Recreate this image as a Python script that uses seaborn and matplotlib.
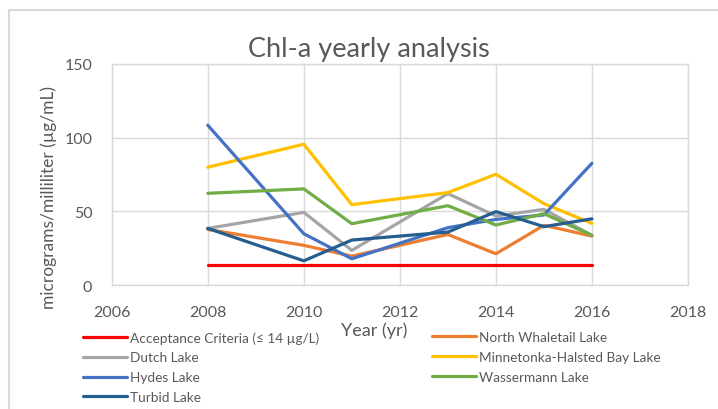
import matplotlib
matplotlib.use("Agg")
import matplotlib.pyplot as plt
from matplotlib.lines import Line2D
import pandas as pd
import seaborn as sns

# values
years = [2008, 2010, 2011, 2013, 2014, 2015, 2016]
acceptance = [14, 14, 14, 14, 14, 14, 14]
north_whaletail = [37.8, 27.0, 19.7, 34.4, 21.3, 40.6, 33.3]
dutch = [38.5, 49.4, 23.6, 62.1, 46.9, 51.4, 33.8]
minnetonka = [80.0, 95.6, 54.6, 62.8, 75.2, 55.3, 41.9]
hydes = [108.5, 34.9, 17.9, 39.0, 44.6, 47.6, 82.7]
wassermann = [62.3, 65.3, 41.7, 53.9, 40.8, 48.5, 33.8]
turbid = [38.5, 16.5, 30.6, 36.0, 49.9, 39.7, 45.0]

series = {
    "Acceptance Criteria (≤ 14 µg/L)": acceptance,
    "North Whaletail Lake": north_whaletail,
    "Dutch Lake": dutch,
    "Minnetonka-Halsted Bay Lake": minnetonka,
    "Hydes Lake": hydes,
    "Wassermann Lake": wassermann,
    "Turbid Lake": turbid,
}
colors = ["#FF0000", "#ED7D31", "#A5A5A5", "#FFC000", "#4472C4", "#70AD47", "#255E91"]

rows = []
for name, vals in series.items():
    for yr, v in zip(years, vals):
        rows.append({"Year": yr, "Value": v, "Series": name})
df = pd.DataFrame(rows)

sns.set_style("white")
plt.rcParams['font.family'] = ['Lato', 'DejaVu Sans']
txt = "#595959"

fig = plt.figure(figsize=(7.18, 4.10), dpi=100)
ax = fig.add_axes([0.1556, 0.302, 0.8026, 0.5395])

# chart area frame (left and top edges only visible)
fig.add_artist(Line2D([9 / 718, 9 / 718], [0, 1 - 11 / 410], color="#D9D9D9", linewidth=1.5))
fig.add_artist(Line2D([9 / 718, 1], [1 - 11 / 410, 1 - 11 / 410], color="#D9D9D9", linewidth=1.5))

palette = dict(zip(series.keys(), colors))
sns.lineplot(data=df, x="Year", y="Value", hue="Series", palette=palette,
             linewidth=2.3, ax=ax, legend=False, sort=False)

ax.set_xlim(2006, 2018)
ax.set_ylim(0, 150)
ax.set_xticks(range(2006, 2019, 2))
ax.set_yticks([0, 50, 100, 150])
ax.grid(True, color="#D9D9D9", linewidth=1)
ax.set_axisbelow(True)
for s in ax.spines.values():
    s.set_color("#D9D9D9")
    s.set_linewidth(1)
ax.tick_params(axis="y", length=0, labelsize=11.5, colors=txt, pad=14)
ax.tick_params(axis="x", length=0, labelsize=11.5, colors=txt, pad=14)
ax.set_xlabel("Year (yr)", fontsize=13, color=txt)
ax.set_ylabel("micrograms/milliliter (µg/mL)", fontsize=12.5, color=txt)
ax.xaxis.set_label_coords(0.4546, -0.165)
ax.yaxis.set_label_coords(-0.095, 0.40)
ax.set_title("Chl-a yearly analysis", fontsize=19.5, color=txt, pad=6, x=0.446)

handles = [Line2D([], [], color=c, linewidth=2.3) for c in colors]
names = list(series.keys())
col1 = [0, 2, 4, 6]
col2 = [1, 3, 5]
leg_kw = dict(frameon=False, fontsize=9.8, labelcolor=txt, handlelength=3.2,
              handletextpad=0.22, labelspacing=0.58, borderaxespad=0, borderpad=0)
fig.legend([handles[i] for i in col1], [names[i] for i in col1],
           loc="upper left", bbox_to_anchor=(83 / 718, 1 - 332 / 410), **leg_kw)
fig.legend([handles[i] for i in col2], [names[i] for i in col2],
           loc="upper left", bbox_to_anchor=(432 / 718, 1 - 332 / 410), **leg_kw)

fig.savefig("out.png", dpi=100)
